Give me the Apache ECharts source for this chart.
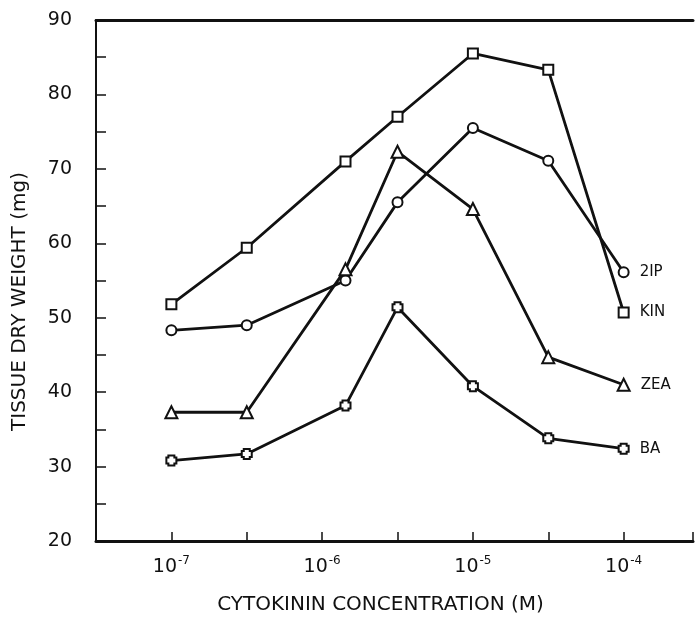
<!DOCTYPE html>
<html>
<head>
<meta charset="utf-8">
<script src="https://cdn.jsdelivr.net/npm/echarts@6/dist/echarts.min.js"></script>
<style>
  html, body { margin: 0; padding: 0; background: #fff; }
  #chart { width: 696px; height: 620px; }
</style>
</head>
<body>
<div id="chart"></div>
<script>
// x positions on half-decade scale: 0 = 1e-7, 1 = 3e-7, 2 = 1e-6, 3 = 3e-6 ...
const xPos = [0, 1, 2.31, 3, 4, 5, 6];
const tickLabels = { 0: '-7', 2: '-6', 4: '-5', 6: '-4' };

const kin = [51.8, 59.4, 71.0, 77.0, 85.5, 83.3, 50.7];
const twoIP = [48.3, 49.0, 55.0, 65.5, 75.5, 71.1, 56.1];
const zea = [37.3, 37.3, 56.5, 72.3, 64.6, 44.7, 41.0];
const ba = [30.8, 31.7, 38.2, 51.4, 40.8, 33.8, 32.4];

const seriesNames = ['KIN', '2IP', 'ZEA', 'BA'];
const seriesValues = [kin, twoIP, zea, ba];

const baSymbol = 'path://M2,0 L8,0 L8,2 L10,2 L10,8 L8,8 L8,10 L2,10 L2,8 L0,8 L0,2 L2,2 Z';
const symbols = ['rect', 'circle', 'triangle', baSymbol];
const symbolSizes = [10, 10, 12, 10];

const ink = '#111';
const chart = echarts.init(document.getElementById('chart'));

const series = seriesNames.map((name, i) => ({
    name: name,
    type: 'line',
    data: seriesValues[i].map((v, j) => [xPos[j], v]),
    symbol: symbols[i],
    symbolSize: symbolSizes[i],
    showAllSymbol: true,
    lineStyle: { color: ink, width: 2.8 },
    itemStyle: { color: '#fff', borderColor: ink, borderWidth: 2 },
    label: {
        show: true,
        position: 'right',
        distance: 10,
        color: ink,
        fontFamily: 'DejaVu Sans',
        fontSize: 15,
        formatter: p => (p.dataIndex === seriesValues[i].length - 1 ? name : '')
    },
    emphasis: { disabled: true },
    z: 3
}));

const option = {
    backgroundColor: '#fff',
    animation: false,
    grid: { left: 96, top: 20, right: 1, height: 526 },
    xAxis: [
        {
            type: 'value',
            min: -1,
            max: 6.92,
            interval: 1,
            splitLine: { show: false },
            axisLine: { onZero: false, lineStyle: { color: ink, width: 3 } },
            axisTick: { inside: true, length: 9, lineStyle: { color: ink, width: 1.5 } },
            axisLabel: {
                margin: 14,
                formatter: v => (tickLabels[v] ? '{b|10}{s|' + tickLabels[v] + '}' : ''),
                rich: {
                    b: { fontFamily: 'DejaVu Sans', fontSize: 19, color: ink, verticalAlign: 'bottom' },
                    s: { fontFamily: 'DejaVu Sans', fontSize: 12, color: ink, verticalAlign: 'top', padding: [0, 0, 10, 1] }
                }
            },
            name: 'CYTOKININ CONCENTRATION (M)',
            nameLocation: 'middle',
            nameGap: 54,
            nameTextStyle: { fontFamily: 'DejaVu Sans', fontSize: 20, color: ink, padding: [0, 28, 0, 0] }
        },
        {
            type: 'value',
            position: 'top',
            min: -1,
            max: 6.92,
            axisLine: { show: true, onZero: false, lineStyle: { color: ink, width: 3 } },
            axisTick: { show: false },
            axisLabel: { show: false },
            splitLine: { show: false }
        }
    ],
    yAxis: {
        type: 'value',
        min: 20,
        max: 90,
        interval: 5,
        splitLine: { show: false },
        axisLine: { show: true, onZero: false, lineStyle: { color: ink, width: 2 } },
        axisTick: { inside: true, length: 10, lineStyle: { color: ink, width: 1.5 } },
        axisLabel: {
            margin: 24,
            color: ink,
            fontFamily: 'DejaVu Sans',
            fontSize: 19,
            formatter: v => (v % 10 === 0 ? String(v) : '')
        },
        name: 'TISSUE DRY WEIGHT (mg)',
        nameLocation: 'middle',
        nameRotate: 90,
        nameGap: 66,
        nameTextStyle: { fontFamily: 'DejaVu Sans', fontSize: 20, color: ink, padding: [0, 42, 0, 0] }
    },
    series: series
};

chart.setOption(option);
</script>
</body>
</html>
